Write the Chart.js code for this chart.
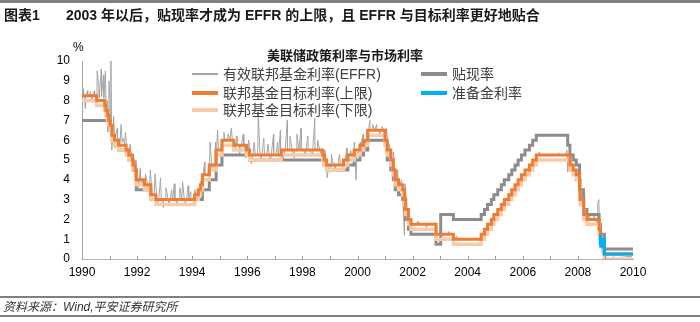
<!DOCTYPE html>
<html>
<head>
<meta charset="utf-8">
<script src="https://cdn.jsdelivr.net/npm/chart.js@4"></script>
<style>
  body { margin: 0; background: #fff; }
  #wrap { position: relative; width: 700px; height: 322px; overflow: hidden; font-family: "Liberation Sans", Arial, "Noto Sans CJK SC", sans-serif; }
  #wrap canvas { position: absolute; left: 0; top: 0; }
  .rule { position: absolute; left: 0; width: 700px; background: #808080; }
  .abs { position: absolute; white-space: nowrap; }
  .hdr { top: 4px; font-size: 14px; font-weight: bold; color: #1a1a1a; }
  .ttl { top: 45px; left: 0; width: 690px; text-align: center; font-size: 13px; font-weight: bold; color: #1a1a1a; }
  .leg { font-size: 14px; color: #404040; line-height: 18px; }
  .sw { position: absolute; width: 26px; }
  .src { top: 297px; left: 3px; font-size: 12px; font-style: italic; color: #333; }
</style>
</head>
<body>
<div id="wrap">
  <canvas id="c" width="700" height="322"></canvas>
  <div class="rule" style="top:0;height:3px"></div>
  <div class="abs hdr" style="left:4px">图表1</div>
  <div class="abs hdr" style="left:66px">2003 年以后，贴现率才成为 EFFR 的上限，且 EFFR 与目标利率更好地贴合</div>
  <div class="abs ttl">美联储政策利率与市场利率</div>
  <div class="abs" style="left:73px;top:40px;font-size:12px;color:#000">%</div>
  <div id="legend"></div>
  <div class="rule" style="top:296px;height:2px"></div>
  <div class="abs src">资料来源：Wind,平安证券研究所</div>
  <div class="rule" style="top:315px;height:2px"></div>
</div>
<script>
// 年份刻度
const yearMin = 1990;
const yearMax = 2010;

// 有效联邦基金利率 (EFFR)，月度，1990.01 - 2009.12
const effrMonthly = [
  8.23, 8.24, 8.28, 8.26, 8.18, 8.29, 8.15, 8.13, 8.20, 8.11, 7.81, 7.31,
  6.91, 6.25, 6.12, 5.91, 5.78, 5.90, 5.82, 5.66, 5.45, 5.21, 4.81, 4.43,
  4.03, 4.06, 3.98, 3.73, 3.82, 3.76, 3.25, 3.30, 3.22, 3.10, 3.09, 2.92,
  3.02, 3.03, 3.07, 2.96, 3.00, 3.04, 3.06, 3.03, 3.09, 2.99, 3.02, 2.96,
  3.05, 3.25, 3.34, 3.56, 4.01, 4.25, 4.26, 4.47, 4.73, 4.76, 5.29, 5.45,
  5.53, 5.92, 5.98, 6.05, 6.01, 6.00, 5.85, 5.74, 5.80, 5.76, 5.80, 5.60,
  5.56, 5.22, 5.31, 5.22, 5.24, 5.27, 5.40, 5.22, 5.30, 5.24, 5.31, 5.29,
  5.25, 5.19, 5.39, 5.51, 5.50, 5.56, 5.52, 5.54, 5.54, 5.50, 5.52, 5.50,
  5.56, 5.51, 5.49, 5.45, 5.49, 5.56, 5.54, 5.55, 5.51, 5.07, 4.83, 4.68,
  4.63, 4.76, 4.81, 4.74, 4.74, 4.76, 4.99, 5.07, 5.22, 5.20, 5.42, 5.30,
  5.45, 5.73, 5.85, 6.02, 6.27, 6.53, 6.54, 6.50, 6.52, 6.51, 6.51, 6.40,
  5.98, 5.49, 5.31, 4.80, 4.21, 3.97, 3.77, 3.65, 3.07, 2.49, 2.09, 1.82,
  1.73, 1.74, 1.73, 1.75, 1.75, 1.75, 1.73, 1.74, 1.75, 1.75, 1.34, 1.24,
  1.24, 1.26, 1.25, 1.26, 1.26, 1.22, 1.01, 1.03, 1.01, 1.01, 1.00, 0.98,
  1.00, 1.01, 1.00, 1.00, 1.00, 1.03, 1.26, 1.43, 1.61, 1.76, 1.93, 2.16,
  2.28, 2.50, 2.63, 2.79, 3.00, 3.04, 3.26, 3.50, 3.62, 3.78, 4.00, 4.16,
  4.29, 4.49, 4.59, 4.79, 4.94, 4.99, 5.24, 5.25, 5.25, 5.25, 5.25, 5.24,
  5.25, 5.26, 5.26, 5.25, 5.25, 5.25, 5.26, 5.02, 4.94, 4.76, 4.49, 4.24,
  3.94, 2.98, 2.61, 2.28, 1.98, 2.00, 2.01, 2.00, 1.81, 0.97, 0.39, 0.16,
  0.15, 0.22, 0.18, 0.15, 0.18, 0.21, 0.16, 0.16, 0.15, 0.12, 0.12, 0.12
];

// EFFR 日度尖峰 [年份, 利率]
const effrSpikes = [
  [1990.05, 8.6], [1990.12, 7.6], [1990.2, 8.5], [1990.3, 8.45], [1990.37, 7.9], [1990.45, 8.5],
  [1990.55, 9.5], [1990.62, 8.6], [1990.7, 9.6], [1990.78, 9.3], [1990.85, 9.5], [1990.92, 8.0],
  [1990.98, 9.0], [1991.05, 10.0], [1991.08, 5.5], [1991.15, 7.2], [1991.2, 5.6], [1991.28, 6.6],
  [1991.35, 5.6], [1991.42, 6.8], [1991.5, 6.1], [1991.58, 6.4], [1991.65, 5.2], [1991.75, 5.8],
  [1991.85, 4.6], [1991.95, 5.0],
  [1992.05, 3.6], [1992.12, 4.6], [1992.2, 3.7], [1992.3, 4.3], [1992.4, 3.4], [1992.48, 4.5],
  [1992.58, 3.2], [1992.65, 4.3], [1992.75, 2.8], [1992.85, 4.1], [1992.95, 2.6],
  [1993.05, 3.6], [1993.15, 2.7], [1993.25, 3.5], [1993.35, 3.8], [1993.45, 2.8], [1993.55, 3.6],
  [1993.65, 3.9], [1993.75, 2.8], [1993.85, 3.7], [1993.95, 3.4],
  [1994.1, 3.5], [1994.3, 3.9], [1994.45, 4.9], [1994.55, 4.2], [1994.65, 5.9], [1994.72, 4.5],
  [1994.85, 5.9], [1994.92, 6.5],
  [1995.05, 5.5], [1995.15, 6.4], [1995.3, 6.3], [1995.42, 6.6], [1995.55, 5.5], [1995.62, 6.2],
  [1995.72, 5.3], [1995.85, 6.3], [1995.95, 5.1],
  [1996.05, 6.0], [1996.15, 4.8], [1996.25, 5.9], [1996.4, 7.4], [1996.5, 5.0], [1996.6, 6.1],
  [1996.75, 5.8], [1996.85, 5.0], [1996.95, 6.3],
  [1997.1, 5.9], [1997.2, 6.5], [1997.3, 5.0], [1997.45, 7.0], [1997.55, 6.2], [1997.7, 5.1],
  [1997.8, 6.3], [1997.95, 6.6],
  [1998.1, 5.2], [1998.2, 6.2], [1998.35, 5.3], [1998.45, 7.1], [1998.55, 6.0], [1998.7, 5.1],
  [1998.82, 5.5], [1998.9, 4.1],
  [1999.05, 5.3], [1999.2, 4.5], [1999.35, 5.3], [1999.5, 4.4], [1999.62, 5.6], [1999.75, 5.5],
  [1999.88, 5.9], [1999.95, 4.0],
  [2000.1, 5.9], [2000.2, 6.3], [2000.3, 5.6], [2000.45, 7.0], [2000.55, 6.8], [2000.7, 6.8],
  [2000.8, 6.3], [2000.9, 6.7], [2000.97, 6.2],
  [2001.05, 6.6], [2001.15, 5.8], [2001.3, 5.4], [2001.45, 4.5], [2001.6, 4.0], [2001.7, 1.2],
  [2001.73, 3.8], [2001.85, 2.4],
  [2002.2, 1.9], [2002.5, 1.6], [2002.8, 1.85], [2003.3, 1.4], [2003.6, 1.15],
  [2006.6, 5.4], [2007.3, 5.35], [2007.6, 5.5], [2007.63, 4.4], [2007.72, 5.2],
  [2008.05, 4.5], [2008.2, 3.3], [2008.4, 2.3], [2008.6, 2.3], [2008.72, 2.8], [2008.76, 3.0],
  [2008.8, 0.6], [2008.85, 1.4], [2008.9, 0.2], [2008.95, 0.5]
];

// 联邦基金目标利率(上限) [生效年份, 利率]
const targetUpper = [
  [1990.0, 8.25], [1990.53, 8.0], [1990.82, 7.75], [1990.87, 7.5], [1990.93, 7.25], [1990.97, 7.0],
  [1991.02, 6.75], [1991.09, 6.25], [1991.18, 6.0], [1991.33, 5.75], [1991.6, 5.5], [1991.7, 5.25],
  [1991.83, 5.0], [1991.85, 4.75], [1991.93, 4.5], [1991.97, 4.0], [1992.27, 3.75], [1992.5, 3.25],
  [1992.68, 3.0], [1994.09, 3.25], [1994.22, 3.5], [1994.3, 3.75], [1994.37, 4.25], [1994.62, 4.75],
  [1994.87, 5.5], [1995.08, 6.0], [1995.51, 5.75], [1995.97, 5.5], [1996.08, 5.25], [1997.23, 5.5],
  [1998.74, 5.25], [1998.79, 5.0], [1998.88, 4.75], [1999.49, 5.0], [1999.65, 5.25], [1999.88, 5.5],
  [2000.09, 5.75], [2000.22, 6.0], [2000.37, 6.5], [2001.0, 6.0], [2001.08, 5.5], [2001.21, 5.0],
  [2001.3, 4.5], [2001.37, 4.0], [2001.49, 3.75], [2001.64, 3.5], [2001.71, 3.0], [2001.75, 2.5],
  [2001.85, 2.0], [2001.94, 1.75], [2002.85, 1.25], [2003.48, 1.0], [2004.49, 1.25], [2004.61, 1.5],
  [2004.72, 1.75], [2004.86, 2.0], [2004.95, 2.25], [2005.09, 2.5], [2005.22, 2.75], [2005.33, 3.0],
  [2005.49, 3.25], [2005.6, 3.5], [2005.72, 3.75], [2005.83, 4.0], [2005.95, 4.25], [2006.08, 4.5],
  [2006.24, 4.75], [2006.36, 5.0], [2006.49, 5.25], [2007.71, 4.75], [2007.83, 4.5], [2007.94, 4.25],
  [2008.06, 3.5], [2008.08, 3.0], [2008.21, 2.25], [2008.33, 2.0], [2008.77, 1.5], [2008.82, 1.0],
  [2008.96, 0.25], [2010.0, 0.25]
];

// 联邦基金目标利率(下限)
const targetLower = [
  [1990.0, 8.0], [1990.53, 7.75], [1990.82, 7.5], [1990.87, 7.25], [1990.93, 7.0], [1990.97, 6.75],
  [1991.02, 6.5], [1991.09, 6.0], [1991.18, 5.75], [1991.33, 5.5], [1991.6, 5.25], [1991.7, 5.0],
  [1991.83, 4.75], [1991.85, 4.5], [1991.93, 4.25], [1991.97, 3.75], [1992.27, 3.5], [1992.5, 3.0],
  [1992.68, 2.75], [1994.09, 3.0], [1994.22, 3.25], [1994.3, 3.5], [1994.37, 4.0], [1994.62, 4.5],
  [1994.87, 5.25], [1995.08, 5.75], [1995.51, 5.5], [1995.97, 5.25], [1996.08, 5.0], [1997.23, 5.25],
  [1998.74, 5.0], [1998.79, 4.75], [1998.88, 4.5], [1999.49, 4.75], [1999.65, 5.0], [1999.88, 5.25],
  [2000.09, 5.5], [2000.22, 5.75], [2000.37, 6.25], [2001.0, 5.75], [2001.08, 5.25], [2001.21, 4.75],
  [2001.3, 4.25], [2001.37, 3.75], [2001.49, 3.5], [2001.64, 3.25], [2001.71, 2.75], [2001.75, 2.25],
  [2001.85, 1.75], [2001.94, 1.5], [2002.85, 1.0], [2003.48, 0.75], [2004.49, 1.0], [2004.61, 1.25],
  [2004.72, 1.5], [2004.86, 1.75], [2004.95, 2.0], [2005.09, 2.25], [2005.22, 2.5], [2005.33, 2.75],
  [2005.49, 3.0], [2005.6, 3.25], [2005.72, 3.5], [2005.83, 3.75], [2005.95, 4.0], [2006.08, 4.25],
  [2006.24, 4.5], [2006.36, 4.75], [2006.49, 5.0], [2007.71, 4.5], [2007.83, 4.25], [2007.94, 4.0],
  [2008.06, 3.25], [2008.08, 2.75], [2008.21, 2.0], [2008.33, 1.75], [2008.77, 1.25], [2008.82, 0.75],
  [2008.96, 0.0], [2010.0, 0.0]
];

// 贴现率
const discountRate = [
  [1990.0, 7.0], [1990.97, 6.5], [1991.09, 6.0], [1991.33, 5.5], [1991.7, 5.0], [1991.85, 4.5],
  [1991.97, 3.5], [1992.5, 3.0], [1994.37, 3.5], [1994.62, 4.0], [1994.87, 4.75], [1995.08, 5.25],
  [1996.08, 5.0], [1998.79, 4.75], [1998.88, 4.5], [1999.65, 4.75], [1999.88, 5.0], [2000.09, 5.25],
  [2000.22, 5.5], [2000.37, 6.0], [2001.01, 5.75], [2001.08, 5.0], [2001.21, 4.5], [2001.3, 4.0],
  [2001.37, 3.5], [2001.49, 3.25], [2001.64, 3.0], [2001.71, 2.5], [2001.75, 2.0], [2001.85, 1.5],
  [2001.94, 1.25], [2002.85, 0.75], [2003.02, 2.25], [2003.48, 2.0], [2004.49, 2.25], [2004.61, 2.5],
  [2004.72, 2.75], [2004.86, 3.0], [2004.95, 3.25], [2005.09, 3.5], [2005.22, 3.75], [2005.33, 4.0],
  [2005.49, 4.25], [2005.6, 4.5], [2005.72, 4.75], [2005.83, 5.0], [2005.95, 5.25], [2006.08, 5.5],
  [2006.24, 5.75], [2006.36, 6.0], [2006.49, 6.25], [2007.63, 5.75], [2007.71, 5.25], [2007.83, 5.0],
  [2007.94, 4.75], [2008.06, 4.0], [2008.08, 3.5], [2008.2, 3.25], [2008.21, 2.5], [2008.33, 2.25],
  [2008.77, 1.75], [2008.82, 1.25], [2008.96, 0.5], [2010.0, 0.5]
];

// 准备金利率
const reserveRate = [
  [2008.77, 0.75], [2008.81, 1.15], [2008.83, 0.65], [2008.85, 1.0], [2008.96, 0.25], [2010.0, 0.25]
];

const legendItems = [
  { label: '有效联邦基金利率(EFFR)', color: '#a6a6a6', width: 1.5, left: 192, top: 65 },
  { label: '联邦基金目标利率(上限)', color: '#ed7d31', width: 4, left: 192, top: 84 },
  { label: '联邦基金目标利率(下限)', color: '#f8cbad', width: 4, left: 192, top: 101 },
  { label: '贴现率', color: '#8c8c8c', width: 4, left: 421, top: 65 },
  { label: '准备金利率', color: '#00b0f0', width: 4, left: 421, top: 84 }
];

const toPts = arr => arr.map(p => ({ x: p[0], y: p[1] }));

const effrData = effrMonthly
  .map((v, i) => ({ x: yearMin + (i + 0.5) / 12, y: v }))
  .concat(toPts(effrSpikes))
  .sort((a, b) => a.x - b.x);

// 图例
const legendEl = document.getElementById('legend');
legendItems.forEach(it => {
  const sw = document.createElement('div');
  sw.className = 'sw';
  sw.style.left = it.left + 'px';
  sw.style.top = (it.top + 9 - it.width / 2) + 'px';
  sw.style.height = it.width + 'px';
  sw.style.background = it.color;
  legendEl.appendChild(sw);
  const tx = document.createElement('div');
  tx.className = 'abs leg';
  tx.style.left = (it.left + 31) + 'px';
  tx.style.top = it.top + 'px';
  tx.textContent = it.label;
  legendEl.appendChild(tx);
});

// x轴内向刻度
const innerTicks = {
  id: 'innerTicks',
  afterDraw(chart) {
    const xs = chart.scales.x;
    const ctx = chart.ctx;
    ctx.save();
    ctx.strokeStyle = '#9a9a9a';
    ctx.lineWidth = 1;
    xs.ticks.forEach(t => {
      if (t.value <= yearMin || t.value >= yearMax) return;
      const px = Math.round(xs.getPixelForValue(t.value)) + 0.5;
      ctx.beginPath();
      ctx.moveTo(px, xs.top);
      ctx.lineTo(px, xs.top - 3);
      ctx.stroke();
    });
    ctx.restore();
  }
};

const lineDs = (label, data, color, width, order, stepped) => ({
  label, data,
  borderColor: color,
  backgroundColor: color,
  borderWidth: width,
  pointRadius: 0,
  tension: 0,
  stepped: stepped,
  borderCapStyle: 'butt',
  borderJoinStyle: 'miter',
  order
});

new Chart(document.getElementById('c'), {
  type: 'line',
  data: {
    datasets: [
      lineDs('有效联邦基金利率(EFFR)', effrData, '#a6a6a6', 1, 5, false),
      lineDs('贴现率', toPts(discountRate), '#8c8c8c', 3, 4, true),
      lineDs('联邦基金目标利率(下限)', toPts(targetLower), '#f8cbad', 3.5, 3, true),
      lineDs('联邦基金目标利率(上限)', toPts(targetUpper), '#ed7d31', 3, 2, true),
      lineDs('准备金利率', toPts(reserveRate), '#00b0f0', 3, 1, true)
    ]
  },
  options: {
    responsive: false,
    animation: false,
    events: [],
    layout: { padding: { left: 52, right: 67, top: 61, bottom: 0 } },
    plugins: { legend: { display: false }, tooltip: { enabled: false } },
    scales: {
      x: {
        type: 'linear',
        min: yearMin,
        max: yearMax,
        grid: { display: false, drawTicks: false },
        border: { color: '#b0b0b0', width: 1 },
        ticks: {
          stepSize: 1,
          autoSkip: false,
          maxRotation: 0,
          padding: 6,
          color: '#000',
          font: { family: '"Liberation Sans", Arial, sans-serif', size: 12 },
          callback: v => (v % 2 === 0 ? String(v) : '')
        },
        afterFit: s => { s.height = 63; }
      },
      y: {
        min: 0,
        max: 10,
        grid: { display: false, drawTicks: false },
        border: { color: '#a6a6a6', width: 1 },
        ticks: {
          stepSize: 1,
          padding: 12,
          color: '#000',
          font: { family: '"Liberation Sans", Arial, sans-serif', size: 12 }
        },
        afterFit: s => { s.width = 30; }
      }
    }
  },
  plugins: [innerTicks]
});
</script>
</body>
</html>
